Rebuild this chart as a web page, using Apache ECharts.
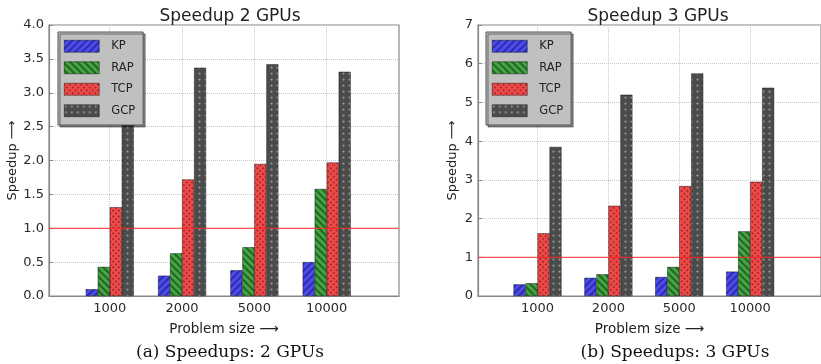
<!DOCTYPE html>
<html>
<head>
<meta charset="utf-8">
<script src="https://cdn.jsdelivr.net/npm/echarts@6/dist/echarts.min.js"></script>
<style>
  html, body { margin: 0; padding: 0; background: #fff; }
  #chart { width: 821px; height: 364px; }
</style>
</head>
<body>
<div id="chart"></div>
<script>
const categories = ['1000', '2000', '5000', '10000'];
const seriesNames = ['KP', 'RAP', 'TCP', 'GCP'];

// speedup with 2 GPUs
const kp2 = [0.10, 0.30, 0.38, 0.50];
const rap2 = [0.43, 0.63, 0.72, 1.58];
const tcp2 = [1.31, 1.72, 1.95, 1.97];
const gcp2 = [2.80, 3.37, 3.42, 3.31];

// speedup with 3 GPUs
const kp3 = [0.30, 0.47, 0.49, 0.63];
const rap3 = [0.33, 0.56, 0.75, 1.67];
const tcp3 = [1.62, 2.33, 2.84, 2.95];
const gcp3 = [3.85, 5.20, 5.75, 5.38];

const baseline = 1;
const xMin = 0.16;
const xMax = 5;

const styles = {
    KP: { color: '#4b4bf0', decal: { symbol: 'rect', color: 'rgba(20,20,110,0.55)', dashArrayX: [1, 0], dashArrayY: [2, 3], rotation: -Math.PI / 4 } },
    RAP: { color: '#45a445', decal: { symbol: 'rect', color: 'rgba(10,60,10,0.6)', dashArrayX: [1, 0], dashArrayY: [2, 3], rotation: Math.PI / 4 } },
    TCP: { color: '#ee4b4b', decal: { symbol: 'rect', color: 'rgba(130,15,15,0.55)', dashArrayX: [2, 2], dashArrayY: [2, 2], rotation: Math.PI / 4 } },
    GCP: { color: '#4b4b4b', decal: { symbol: 'circle', color: '#959595', symbolSize: 0.75, dashArrayX: [3, 3], dashArrayY: [3, 3] } }
};

const font = 'DejaVu Sans';
const positions = categories.map((c, i) => i + 1);

function makeSeries(name, values, idx) {
    return {
        id: name + '_' + idx,
        name,
        type: 'bar',
        xAxisIndex: idx,
        yAxisIndex: idx,
        data: values.map((v, i) => [positions[i], v]),
        barWidth: 12,
        barGap: '0%',
        itemStyle: { color: styles[name].color, decal: styles[name].decal, borderColor: 'rgba(0,0,0,0.45)', borderWidth: 0.5 }
    };
}

function makeBaseline(idx) {
    // red y = 1 reference line across the whole plot
    return {
        id: 'baseline_' + idx,
        type: 'line',
        xAxisIndex: idx,
        yAxisIndex: idx,
        data: [[xMin, baseline], [xMax, baseline]],
        symbol: 'none',
        silent: true,
        z: 5,
        color: '#ff2a2a',
        lineStyle: { color: '#ff2a2a', width: 1, type: 'solid' }
    };
}

function makeXAxis(idx) {
    return {
        type: 'value',
        gridIndex: idx,
        min: xMin,
        max: xMax,
        name: 'Problem size \u27F6',
        nameLocation: 'middle',
        nameGap: 26,
        nameTextStyle: { fontFamily: font, fontSize: 13.5, color: '#222' },
        axisLine: { lineStyle: { color: '#888', width: 1.2 } },
        axisTick: { show: true, inside: true, length: 4, customValues: positions, lineStyle: { color: '#888' } },
        axisLabel: {
            customValues: positions,
            fontFamily: font, fontSize: 13, color: '#2a2a2a', margin: 6,
            formatter: v => categories[Math.round(v) - 1] || ''
        },
        splitLine: { show: true, lineStyle: { color: '#c8c8c8', type: 'dotted' } }
    };
}

function makeYAxis(idx, max, interval, digits) {
    return {
        type: 'value',
        gridIndex: idx,
        min: 0,
        max,
        interval,
        name: 'Speedup \u27F6',
        nameLocation: 'middle',
        nameGap: digits ? 30 : 19,
        nameTextStyle: { fontFamily: font, fontSize: 13, color: '#222' },
        axisLine: { show: true, lineStyle: { color: '#888', width: 1.2 } },
        axisTick: { show: true, inside: true, length: 4, lineStyle: { color: '#888' } },
        axisLabel: { fontFamily: font, fontSize: 13, color: '#2a2a2a', margin: 5, formatter: v => v.toFixed(digits) },
        splitLine: { show: true, lineStyle: { color: '#c8c8c8', type: 'dotted' } }
    };
}

function makeLegend(left) {
    return {
        orient: 'vertical',
        left,
        top: 32,
        data: seriesNames,
        icon: 'rect',
        itemWidth: 35,
        itemHeight: 12,
        itemGap: 9,
        padding: [8, 8, 8, 6],
        backgroundColor: '#c0c0c0',
        borderColor: '#555',
        borderWidth: 1,
        shadowColor: 'rgba(0,0,0,0.45)',
        shadowOffsetX: 2,
        shadowOffsetY: 2,
        selectedMode: false,
        itemStyle: { borderWidth: 0.5, borderColor: 'rgba(0,0,0,0.45)' },
        textStyle: { fontFamily: font, fontSize: 11.5, color: '#222', padding: [0, 0, 0, 7] }
    };
}

const chart = echarts.init(document.getElementById('chart'), null, { renderer: 'canvas' });

const titleStyle = { fontFamily: font, fontSize: 17, fontWeight: 'normal', color: '#222' };
const captionStyle = { fontFamily: 'DejaVu Serif', fontSize: 17, fontWeight: 'normal', color: '#111' };

const option = {
    animation: false,
    aria: { enabled: false },
    title: [
        { text: 'Speedup 2 GPUs', left: 225, top: 3, textAlign: 'center', textStyle: titleStyle },
        { text: 'Speedup 3 GPUs', left: 653, top: 3, textAlign: 'center', textStyle: titleStyle },
        { text: '(a) Speedups: 2 GPUs', left: 225, top: 339, textAlign: 'center', textStyle: captionStyle },
        { text: '(b) Speedups: 3 GPUs', left: 670, top: 339, textAlign: 'center', textStyle: captionStyle }
    ],
    legend: [makeLegend(58), makeLegend(486)],
    grid: [
        { left: 49, top: 25, width: 350, height: 271, show: true, borderColor: '#888', borderWidth: 1.2, backgroundColor: 'transparent' },
        { left: 478, top: 25, width: 349, height: 271, show: true, borderColor: '#888', borderWidth: 1.2, backgroundColor: 'transparent' }
    ],
    xAxis: [makeXAxis(0), makeXAxis(1)],
    yAxis: [makeYAxis(0, 4, 0.5, 1), makeYAxis(1, 7, 1, 0)],
    series: [
        makeSeries('KP', kp2, 0),
        makeSeries('RAP', rap2, 0),
        makeSeries('TCP', tcp2, 0),
        makeSeries('GCP', gcp2, 0),
        makeSeries('KP', kp3, 1),
        makeSeries('RAP', rap3, 1),
        makeSeries('TCP', tcp3, 1),
        makeSeries('GCP', gcp3, 1),
        makeBaseline(0),
        makeBaseline(1)
    ]
};

chart.setOption(option);
</script>
</body>
</html>
